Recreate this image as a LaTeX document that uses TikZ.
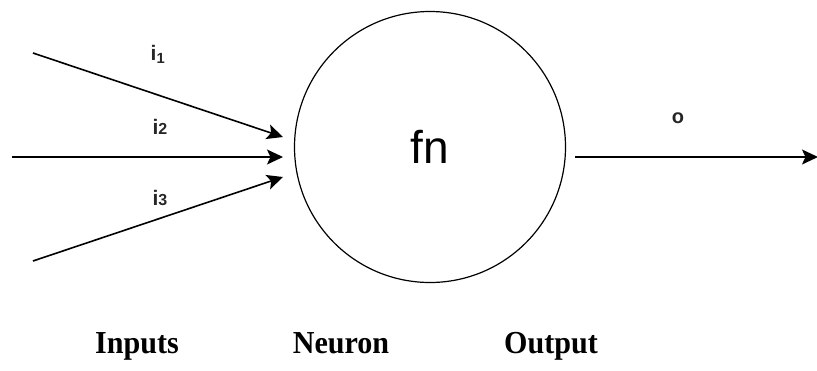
\documentclass[tikz,border=0pt]{standalone}
\usepackage{fontspec}
\setmainfont{Liberation Serif}
\setsansfont{Liberation Sans}
\usetikzlibrary{arrows.meta, positioning}

\begin{document}
\begin{tikzpicture}[
    x=1pt, y=-1pt, >=Latex,
    neuron/.style={draw, circle, line width=1.2pt, minimum size=271pt,
                   inner sep=0pt, font=\sffamily\fontsize{46}{50}\selectfont},
    lbl/.style={font=\sffamily\bfseries\fontsize{21}{24}\selectfont,
                inner sep=0pt, text=black!85},
    head/.style={font=\bfseries\fontsize{32}{34}\selectfont, inner sep=0pt,
                 anchor=base, xscale=0.94},
    arr/.style={-{Stealth[length=16pt, width=15pt, inset=3.5pt]},
                line width=1.6pt}
]
\useasboundingbox (0,0) rectangle (817,370);

% The neuron
\node[neuron] (fn) at (430,147) {fn};

% Input ends and arrow tips
\coordinate (in1) at (33,53);
\coordinate (in2) at (12,157);
\coordinate (in3) at (33,261);
\coordinate (tip1) at (283,137);
\coordinate (tip2) at (283,157);
\coordinate (tip3) at (283,177);

% Output line
\coordinate (out0) at (575,157);
\coordinate (out1) at (818,157);

% Inputs -> neuron
\draw[arr] (in1) -- (tip1);
\draw[arr] (in2) -- (tip2);
\draw[arr] (in3) -- (tip3);

% Neuron -> output
\draw[arr] (out0) -- (out1);

% Edge labels
\node[lbl] (l1) at (158,54) {i\textsubscript{1}};
\node[lbl] (l2) at (160,127) {i{\fontsize{16}{18}\selectfont 2}};
\node[lbl] (l3) at (160,198) {i{\fontsize{16}{18}\selectfont 3}};
\node[lbl, font=\sffamily\bfseries\fontsize{20}{24}\selectfont] (lo) at (678,118) {o};

% Column captions
\node[head] (cin) at (137,353) {Inputs};
\node[head] (cneu) at (341,353) {Neuron};
\node[head] (cout) at (551,353) {Output};

\end{tikzpicture}
\end{document}
